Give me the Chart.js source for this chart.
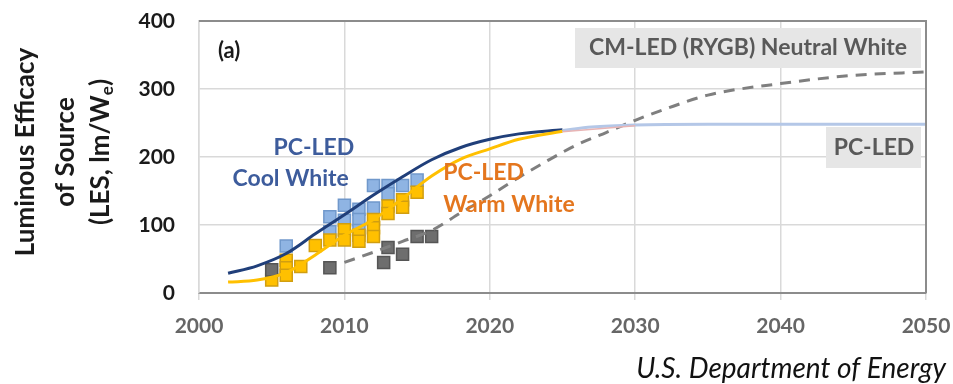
<!DOCTYPE html>
<html>
<head>
<meta charset="utf-8">
<script src="https://cdn.jsdelivr.net/npm/chart.js@4/dist/chart.umd.min.js"></script>
<style>
  body { margin: 0; background: #fff; }
  #wrap { width: 953px; height: 384px; }
</style>
</head>
<body>
<div id="wrap"><canvas id="canvas" width="953" height="384"></canvas></div>
<script>
// axis ticks
var xTicks = [2000, 2010, 2020, 2030, 2040, 2050];
var yTicks = [0, 100, 200, 300, 400];

// measured points, PC-LED cool white
var coolYears = [2006, 2009, 2009, 2010, 2010, 2011, 2011, 2011, 2012, 2012, 2013, 2013, 2014, 2015];
var coolLES   = [69, 112, 90, 129, 107, 123, 108, 92, 158, 125, 158, 146, 158, 166];

// measured points, PC-LED warm white
var warmYears = [2005, 2006, 2006, 2006, 2007, 2008, 2009, 2010, 2010, 2011, 2011, 2012, 2012, 2012, 2013, 2013, 2014, 2014, 2015];
var warmLES   = [19, 48, 37, 26, 39, 70, 78, 93, 78, 85, 76, 108, 96, 83, 128, 117, 137, 126, 148];

// measured points, CM-LED
var cmYears = [2005, 2009, 2012.7, 2013, 2014, 2015, 2016];
var cmLES   = [34, 37, 45, 67, 57, 83, 83];

// fitted curves
var coolFitYears = [2002, 2004, 2006, 2008, 2010, 2012, 2014, 2016, 2018, 2020, 2022, 2025];
var coolFit      = [29, 40, 58, 87, 115, 144, 171, 196, 214, 226, 234, 240];
var warmFitYears = [2002, 2004, 2006, 2008, 2010, 2012, 2014, 2016, 2018, 2020, 2022, 2025];
var warmFit      = [16, 19, 30, 56, 85, 108, 139, 172, 197, 212, 226, 238];

// projections
var pcProjYears = [2025, 2027, 2030, 2035, 2050];
var pcProj      = [239, 244, 247, 248, 248];
var pinkYears   = [2025, 2030];
var pinkProj    = [237, 246];
var cmProjYears = [2010, 2012, 2014, 2016, 2018, 2020, 2022, 2024, 2026, 2028, 2030, 2032, 2035, 2040, 2045, 2050];
var cmProj      = [45, 60, 76, 92, 118, 143, 170, 195, 218, 236, 254, 270, 291, 308, 320, 325];

function pts(xs, ys) {
    return xs.map(function (x, i) { return { x: x, y: ys[i] }; });
}

var FONT = 'Lato, "Open Sans", sans-serif';

function squares(data, fill, border) {
    return {
        data: data, showLine: false, order: 2,
        pointStyle: 'rect', pointRadius: 8.5, pointHoverRadius: 8.5,
        backgroundColor: fill, borderColor: border, borderWidth: 1.5
    };
}
function curve(data, color, width, dash) {
    return {
        data: data, showLine: true, order: 1,
        borderColor: color, borderWidth: width, borderDash: dash || [],
        pointRadius: 0, tension: 0.4, cubicInterpolationMode: 'monotone', fill: false
    };
}

// labels, boxes and the rotated axis title
var decorations = {
    id: 'decorations',
    beforeDatasetsDraw: function (chart) {
        var ctx = chart.ctx;
        ctx.save();
        ctx.fillStyle = '#e6e6e6';
        ctx.fillRect(575, 28, 346, 40);
        ctx.fillRect(826, 127, 95, 41);
        ctx.restore();
    },
    afterDraw: function (chart) {
        var ctx = chart.ctx, a = chart.chartArea;
        var x = chart.scales.x, y = chart.scales.y;
        ctx.save();

        // plot frame, top and right
        ctx.strokeStyle = '#8c8c8c';
        ctx.lineWidth = 2;
        ctx.beginPath();
        ctx.moveTo(a.left, a.top);
        ctx.lineTo(a.right, a.top);
        ctx.lineTo(a.right, a.bottom);
        ctx.stroke();

        ctx.textBaseline = 'middle';
        ctx.font = 'bold 22px ' + FONT;
        ctx.fillStyle = '#1a1a1a';
        ctx.textAlign = 'left';
        ctx.fillText('(a)', x.getPixelForValue(2001.3), y.getPixelForValue(356));

        ctx.font = 'bold 23px ' + FONT;
        ctx.fillStyle = '#3d5c9c';
        ctx.textAlign = 'center';
        ctx.fillText('PC-LED', x.getPixelForValue(2007.9), y.getPixelForValue(214));
        ctx.fillText('Cool White', x.getPixelForValue(2006.3), y.getPixelForValue(168));

        ctx.fillStyle = '#e4761e';
        ctx.textAlign = 'left';
        ctx.fillText('PC-LED', x.getPixelForValue(2016.8), y.getPixelForValue(177));
        ctx.fillText('Warm White', x.getPixelForValue(2016.8), y.getPixelForValue(130));

        ctx.fillStyle = '#595959';
        ctx.textAlign = 'center';
        ctx.fillText('CM-LED (RYGB) Neutral White', 748, 48);
        ctx.fillText('PC-LED', 874, 148);

        ctx.font = 'italic 28px ' + FONT;
        ctx.fillStyle = '#111';
        ctx.textAlign = 'right';
        ctx.fillText('U.S. Department of Energy', 946, 369);

        // y axis title, three rotated lines
        ctx.translate(0, 152);
        ctx.rotate(-Math.PI / 2);
        ctx.font = 'bold 26px ' + FONT;
        ctx.fillStyle = '#1a1a1a';
        ctx.textAlign = 'center';
        ctx.fillText('Luminous Efficacy', 0, 26);
        ctx.fillText('of Source', 0, 66);
        var main = '(LES, lm/W', sub = 'e', tail = ')';
        var wMain = ctx.measureText(main).width, wTail = ctx.measureText(tail).width;
        ctx.font = 'bold 17px ' + FONT;
        var wSub = ctx.measureText(sub).width;
        var start = -(wMain + wSub + wTail) / 2;
        ctx.textAlign = 'left';
        ctx.font = 'bold 26px ' + FONT;
        ctx.fillText(main, start, 101);
        ctx.font = 'bold 17px ' + FONT;
        ctx.fillText(sub, start + wMain, 108);
        ctx.font = 'bold 26px ' + FONT;
        ctx.fillText(tail, start + wMain + wSub, 101);
        ctx.restore();
    }
};

const ctx = document.getElementById('canvas').getContext('2d');
const myChart = new Chart(ctx, {
    type: 'scatter',
    data: {
        datasets: [
            squares(pts(cmYears, cmLES), '#6e6e6e', '#555555'),
            squares(pts(warmYears, warmLES), '#ffc000', '#d19e10'),
            squares(pts(coolYears, coolLES), '#8fb4e3', '#7098cb'),
            curve(pts(pinkYears, pinkProj), '#e8b4b4', 1.5),
            curve(pts(pcProjYears, pcProj), '#b4c7e7', 3),
            curve(pts(cmProjYears, cmProj), '#7f7f7f', 3, [11, 8]),
            curve(pts(warmFitYears, warmFit), '#ffc000', 3),
            curve(pts(coolFitYears, coolFit), '#203f7a', 3)
        ]
    },
    options: {
        responsive: false,
        animation: false,
        layout: { padding: { top: 21, right: 27, left: 0, bottom: 0 } },
        plugins: {
            legend: { display: false },
            tooltip: { enabled: false }
        },
        scales: {
            x: {
                type: 'linear',
                min: xTicks[0],
                max: xTicks[xTicks.length - 1],
                afterBuildTicks: function (scale) {
                    scale.ticks = xTicks.map(function (v) { return { value: v }; });
                },
                afterFit: function (scale) {
                    scale.height = 91;
                    scale.paddingLeft = 0;
                    scale.paddingRight = 0;
                },
                ticks: {
                    callback: function (v) { return String(v); },
                    color: '#666666',
                    font: { family: FONT, size: 21, weight: 'bold' },
                    padding: 14,
                    maxRotation: 0
                },
                grid: { color: '#d9d9d9', lineWidth: 1.5, tickLength: 7, tickColor: '#d9d9d9' },
                border: { color: '#8c8c8c', width: 2 }
            },
            y: {
                min: yTicks[0],
                max: yTicks[yTicks.length - 1],
                afterBuildTicks: function (scale) {
                    scale.ticks = yTicks.map(function (v) { return { value: v }; });
                },
                afterFit: function (scale) {
                    scale.width = 199;
                    scale.paddingTop = 0;
                    scale.paddingBottom = 0;
                },
                ticks: {
                    color: '#1a1a1a',
                    font: { family: FONT, size: 21, weight: 'bold' },
                    padding: 24
                },
                grid: { color: '#d9d9d9', lineWidth: 1.5, drawTicks: false },
                border: { color: '#d9d9d9', width: 1.5 }
            }
        }
    },
    plugins: [decorations]
});
</script>
</body>
</html>
